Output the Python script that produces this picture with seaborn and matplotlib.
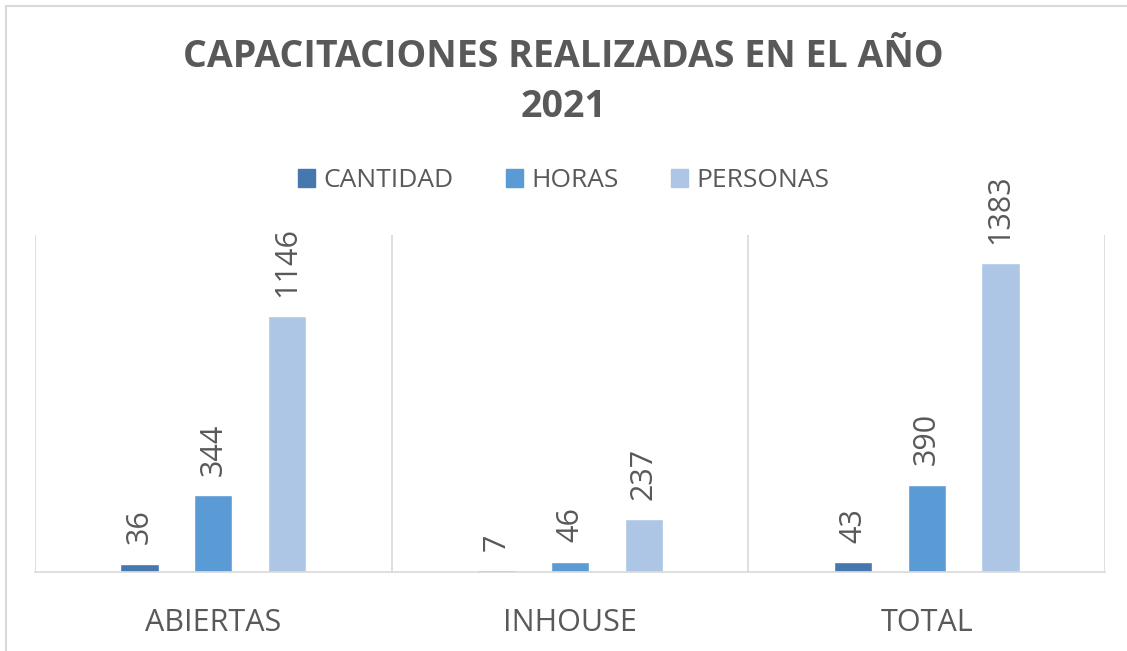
import pandas as pd
import matplotlib.pyplot as plt
import seaborn as sns
from matplotlib.patches import Rectangle

# Chart data
categorias = ["ABIERTAS", "INHOUSE", "TOTAL"]
series = ["CANTIDAD", "HORAS", "PERSONAS"]
cantidad = [36, 7, 43]
horas = [344, 46, 390]
personas = [1146, 237, 1383]
colores = ["#4677AE", "#5B9BD5", "#ADC6E6"]

df = pd.DataFrame({
    "categoria": categorias * 3,
    "serie": [s for s in series for _ in categorias],
    "valor": cantidad + horas + personas,
})

sns.set_theme(style="white")
plt.rcParams["font.family"] = ["Open Sans", "DejaVu Sans"]
gris = "#595959"

fig = plt.figure(figsize=(11.27, 6.51), dpi=100)
ax = fig.add_axes([0.031, 0.1214, 0.9495, 0.5176])

sns.barplot(data=df, x="categoria", y="valor", hue="serie", order=categorias,
            hue_order=series, palette=colores, width=0.62, gap=0.48,
            saturation=1, ax=ax, legend=False)

# value labels, rotated like the original
for cont in ax.containers:
    ax.bar_label(cont, rotation=90, padding=14, fontsize=22, color=gris)

ax.set_ylim(0, 1510)
ax.set_xlim(-0.5, len(categorias) - 0.5)
ax.set_yticks([])
ax.set_xlabel("")
ax.set_ylabel("")
ax.tick_params(axis="x", length=0, pad=26)
for lbl in ax.get_xticklabels():
    lbl.set_fontsize(22)
    lbl.set_color(gris)

for sp in ["top", "right", "left"]:
    ax.spines[sp].set_visible(False)
ax.spines["bottom"].set_color("#D9D9D9")
ax.spines["bottom"].set_linewidth(1.2)

# vertical separators between categories
for i in range(len(categorias) + 1):
    ax.axvline(i - 0.5, color="#D9D9D9", lw=1.2, zorder=0)

handles = [Rectangle((0, 0), 1, 1, color=c) for c in colores]
fig.legend(handles, series, loc="center", bbox_to_anchor=(0.5, 0.722), ncol=3,
           frameon=False, fontsize=19, labelcolor=gris, handlelength=0.65,
           handleheight=0.65, handletextpad=0.3, columnspacing=2.0)

fig.text(0.5, 0.913, "CAPACITACIONES REALIZADAS EN EL AÑO", ha="center",
         va="center", fontsize=27, fontweight="bold", color=gris)
fig.text(0.5, 0.836, "2021", ha="center", va="center", fontsize=27,
         fontweight="bold", color=gris)

# chart frame (only top and left edges visible in the original)
fig.patches.append(Rectangle((6 / 1127, -0.05), 1.1, 1.05 - 6 / 651,
                             transform=fig.transFigure, fill=False,
                             edgecolor="#D9D9D9", lw=1.5))

fig.savefig("out.png", dpi=100)
